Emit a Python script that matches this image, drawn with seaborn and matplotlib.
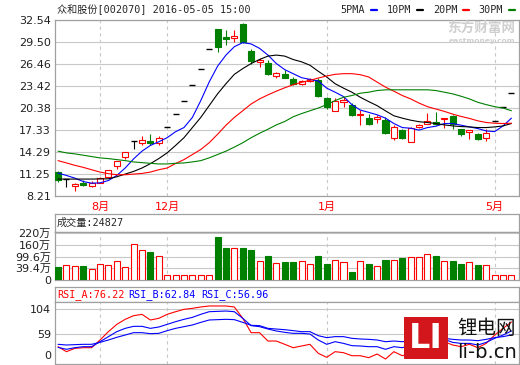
import numpy as np
import matplotlib
matplotlib.use("Agg")
import matplotlib.pyplot as plt
import seaborn as sns
from matplotlib.lines import Line2D
from matplotlib.patches import Rectangle

# ---- data (daily candles, index 0..54) ----
opens = [11.52, 10.50, 9.65, 10.07, 9.65, 10.03, 10.82, 12.31, 13.57, 15.81,
         15.57, 15.85, 15.48, 17.81, 19.49, 21.40, 23.49, 25.82, 28.53, 31.32,
         30.25, 30.02, 31.93, 28.29, 26.76, 26.62, 24.75, 25.03, 24.38, 23.73,
         24.10, 24.19, 21.77, 20.00, 21.16, 20.79, 19.35, 18.93, 18.83, 18.74,
         16.18, 17.34, 15.67, 17.76, 18.23, 18.46, 18.79, 19.21, 17.53, 17.11,
         16.83, 16.27, 18.60, 20.56, 22.47]
closes = [10.45, 10.50, 9.89, 9.75, 9.98, 10.73, 11.75, 13.01, 14.27, 15.81,
          15.99, 15.53, 16.18, 17.81, 19.49, 21.40, 23.49, 25.82, 28.53, 28.85,
          29.88, 30.39, 29.51, 26.85, 26.99, 25.03, 25.22, 24.57, 23.73, 24.05,
          24.43, 22.00, 20.47, 21.40, 21.49, 19.39, 19.53, 18.23, 19.07, 16.88,
          17.76, 16.18, 17.58, 18.04, 18.60, 18.23, 18.97, 18.23, 16.74, 17.39,
          16.04, 16.97, 18.60, 20.56, 22.47]
highs = [11.70, 10.50, 10.07, 10.45, 10.31, 10.77, 11.84, 13.10, 14.27, 15.81,
         16.46, 16.83, 16.46, 17.81, 19.49, 21.40, 23.49, 25.82, 28.53, 31.32,
         31.09, 31.09, 32.11, 28.57, 27.22, 26.99, 25.36, 25.68, 24.66, 24.19,
         24.57, 24.57, 21.96, 21.72, 21.96, 21.02, 20.09, 19.53, 19.44, 19.16,
         18.04, 17.44, 17.76, 18.23, 19.63, 19.86, 18.97, 19.39, 17.53, 17.39,
         16.97, 17.44, 18.60, 20.56, 22.47]
lows = [10.20, 9.40, 8.91, 9.61, 9.47, 9.98, 10.77, 11.98, 13.38, 14.64,
        15.29, 15.25, 15.20, 17.81, 19.49, 21.40, 23.49, 25.82, 28.53, 28.06,
        29.13, 29.46, 29.41, 26.52, 26.06, 24.89, 24.52, 24.52, 23.49, 23.49,
        23.96, 21.86, 20.23, 20.00, 20.47, 19.30, 18.00, 18.04, 18.37, 16.74,
        15.90, 16.04, 15.67, 17.67, 18.23, 18.04, 17.58, 17.44, 16.46, 16.04,
        15.90, 15.81, 18.60, 20.56, 22.47]

ma5 = [11.38, 11.05, 10.68, 10.21, 9.98, 10.03, 10.35, 11.05, 12.08, 13.34,
       14.41, 15.20, 15.71, 16.27, 17.10, 17.67, 19.07, 21.40, 23.96, 26.15,
       27.69, 28.85, 29.41, 29.23, 28.62, 27.69, 26.52, 25.68, 25.12, 24.57,
       24.33, 24.10, 23.12, 22.56, 21.96, 20.84, 20.09, 19.77, 19.44, 18.97,
       18.23, 17.67, 17.58, 17.32, 17.67, 17.86, 18.23, 18.23, 18.00, 17.76,
       17.53, 17.20, 17.11, 17.90, 18.97]
ma10 = [10.55, 10.55, 10.55, 10.55, 10.55, 10.57, 10.59, 10.87, 11.24, 11.61,
        12.08, 12.68, 13.38, 14.18, 15.20, 16.27, 17.67, 19.07, 20.70, 22.33,
        23.73, 25.03, 25.82, 26.52, 27.08, 27.55, 27.69, 27.55, 27.08, 26.76,
        26.29, 25.45, 24.66, 23.73, 23.12, 22.56, 21.86, 21.26, 20.70, 19.98,
        19.30, 18.97, 18.69, 18.48, 18.37, 18.23, 18.04, 17.90, 17.81, 17.76,
        17.67, 17.67, 17.76, 17.90, 18.23]
ma20 = [13.10, 12.78, 12.45, 12.17, 11.84, 11.52, 11.29, 11.15, 11.15, 11.24,
        11.33, 11.52, 11.84, 12.08, 12.70, 13.24, 13.94, 14.64, 15.57, 16.74,
        17.99, 19.07, 20.00, 20.93, 21.63, 22.19, 22.70, 23.17, 23.59, 23.92,
        24.19, 24.52, 24.80, 25.03, 25.12, 25.12, 24.98, 24.66, 23.96, 23.26,
        22.70, 22.10, 21.63, 21.05, 20.56, 20.23, 19.91, 19.53, 19.21, 18.93,
        18.60, 18.37, 18.27, 18.23, 18.27]
ma30 = [14.41, 14.17, 14.03, 13.85, 13.66, 13.48, 13.38, 13.24, 13.10, 12.92,
        12.82, 12.73, 12.64, 12.64, 12.73, 12.78, 12.92, 13.10, 13.48, 13.94,
        14.41, 14.97, 15.57, 16.27, 16.88, 17.44, 18.04, 18.51, 19.16, 19.60,
        19.99, 20.37, 20.84, 21.40, 21.86, 22.10, 22.42, 22.56, 22.79, 22.89,
        22.89, 22.89, 22.89, 22.89, 22.89, 22.79, 22.56, 22.33, 22.00, 21.63,
        21.16, 20.84, 20.56, 20.37, 19.99]

# volume in 万
volume = [60, 71, 67, 67, 53, 78, 71, 92, 60, 173,
          145, 136, 115, 23, 23, 23, 23, 23, 23, 207,
          152, 152, 152, 145, 92, 113, 83, 87, 87, 92,
          78, 117, 78, 97, 87, 39, 92, 78, 67, 97,
          97, 104, 110, 110, 124, 115, 92, 92, 78, 87,
          71, 71, 23, 23, 23]

rsi_a = [39.6, 32.2, 37.1, 38.1, 38.1, 49.5, 61.9, 72.7, 80.2, 85.6,
         87.6, 79.2, 81.7, 87.6, 91.5, 95.0, 96.5, 98.5, 100.0, 100.0,
         100.0, 98.5, 81.7, 60.4, 60.4, 48.0, 48.0, 43.1, 38.1, 40.6,
         43.1, 29.7, 23.8, 32.2, 30.7, 26.2, 26.2, 23.3, 28.7, 21.3,
         32.2, 26.2, 29.7, 37.1, 42.1, 48.0, 47.0, 42.1, 39.6, 43.1,
         38.1, 44.5, 56.9, 66.8, 76.2]
rsi_b = [38.6, 35.7, 38.1, 39.6, 39.6, 47.0, 54.5, 61.9, 66.8, 69.8,
         69.8, 66.8, 68.8, 72.7, 76.7, 80.2, 83.1, 87.6, 91.5, 92.0,
         92.5, 91.5, 81.7, 70.8, 69.3, 65.8, 62.9, 60.9, 59.4, 59.4,
         58.4, 49.5, 43.1, 47.0, 44.5, 41.1, 40.6, 39.6, 39.6, 35.7,
         39.6, 38.1, 42.1, 44.5, 47.0, 49.5, 50.5, 46.0, 44.5, 44.5,
         42.1, 46.0, 52.0, 56.9, 62.8]
rsi_c = [43.1, 42.1, 42.6, 43.1, 43.1, 46.0, 49.5, 53.5, 56.9, 60.4,
         60.4, 58.9, 59.4, 63.4, 66.8, 69.3, 71.8, 75.7, 79.2, 79.7,
         80.2, 79.7, 75.7, 71.3, 70.8, 66.8, 65.8, 64.8, 63.4, 61.9,
         61.9, 55.9, 53.0, 54.5, 54.5, 52.0, 51.0, 50.5, 49.5, 47.0,
         48.0, 47.0, 48.0, 49.5, 50.5, 52.0, 52.0, 50.5, 49.5, 49.5,
         48.5, 50.5, 53.0, 54.5, 57.0]

month_pos = [5, 13, 32, 52]
month_labels = ["8月", "12月", "1月", "5月"]
price_ticks = [8.21, 11.25, 14.29, 17.33, 20.38, 23.42, 26.46, 29.50, 32.54]
vol_ticks = [0, 57.5, 110, 168, 225]
vol_labels = ["0", "39.4万", "99.6万", "160万", "220万"]
rsi_ticks = [27.2, 58.4, 95.5]
rsi_labels = ["0", "59", "104"]

RED, GREEN, BLUE = "#ff0000", "#008000", "#0000ff"

sns.set_style("white")
plt.rcParams["font.family"] = ["DejaVu Sans", "Noto Sans CJK SC"]
MONO = ["DejaVu Sans Mono", "Noto Sans CJK SC"]

W, H = 520, 365
fig = plt.figure(figsize=(W / 100, H / 100), dpi=100)


def box(x0, y0, x1, y1):
    return [x0 / W, 1 - y1 / H, (x1 - x0) / W, (y1 - y0) / H]


def frame(ax):
    for s in ax.spines.values():
        s.set_color("#a0a0a0")
        s.set_linewidth(0.9)
    ax.tick_params(length=0, labelsize=8, pad=3, colors="#202020")
    ax.set_xlim(-0.36, 54.9)
    ax.set_xticks(month_pos)
    ax.grid(axis="x", color="#c8c8c8", linestyle=(0, (3, 3)), linewidth=0.8)
    ax.grid(axis="y", color="#c8c8c8", linewidth=0.8)
    ax.set_axisbelow(True)


def header(ax):
    ax.set_xticks([])
    ax.set_yticks([])
    for s in ax.spines.values():
        s.set_color("#a0a0a0")
        s.set_linewidth(0.9)


ax_p = fig.add_axes(box(55, 20, 519, 196))
ax_vh = fig.add_axes(box(55, 214, 519, 232))
ax_v = fig.add_axes(box(55, 232, 519, 280))
ax_rh = fig.add_axes(box(55, 287, 519, 302))
ax_r = fig.add_axes(box(55, 302, 519, 364))

idx = np.arange(len(opens))
o, c, hi, lo = map(np.array, (opens, closes, highs, lows))

# ---- price panel ----
frame(ax_p)
up = c > o
down = c < o
flat = c == o
edge = np.where(up, RED, np.where(down, GREEN, "black"))
face = np.where(up, "white", np.where(down, GREEN, "black"))
ax_p.vlines(idx, lo, hi, colors=edge, linewidth=0.8, zorder=2)
body = ~flat
ax_p.bar(idx[body], np.abs(c - o)[body], bottom=np.minimum(o, c)[body],
         width=0.72, color=face[body], edgecolor=edge[body], linewidth=0.8,
         zorder=3)
ax_p.hlines(c[flat], idx[flat] - 0.36, idx[flat] + 0.36, colors="black",
            linewidth=1.0, zorder=3)
for ma, col in ((ma5, BLUE), (ma10, "black"), (ma20, RED), (ma30, GREEN)):
    sns.lineplot(x=idx, y=ma, ax=ax_p, color=col, linewidth=0.8, zorder=4)
ax_p.set_ylim(8.21, 32.54)
ax_p.set_yticks(price_ticks, [f"{t:.2f}" for t in price_ticks])
ax_p.set_xticks(month_pos, month_labels)
ax_p.tick_params(axis="x", colors=RED, pad=4)
ax_p.set_xlabel("")
ax_p.set_ylabel("")

# ---- volume panel ----
header(ax_vh)
frame(ax_v)
vol_up = c >= o
ax_v.bar(idx, volume, width=0.72,
         color=np.where(vol_up, "white", GREEN),
         edgecolor=np.where(vol_up, RED, GREEN), linewidth=0.8, zorder=3)
ax_v.set_ylim(0, 230)
ax_v.set_yticks(vol_ticks, vol_labels)
ax_v.set_xticklabels([])
ax_v.get_ygridlines()[0].set_visible(False)

# ---- RSI panel ----
header(ax_rh)
frame(ax_r)
for r, col in ((rsi_a, RED), (rsi_b, BLUE), (rsi_c, BLUE)):
    sns.lineplot(x=idx, y=r, ax=ax_r, color=col, linewidth=0.8, zorder=4)
ax_r.set_ylim(13.9, 105.9)
ax_r.set_yticks(rsi_ticks, rsi_labels)
ax_r.set_xticklabels([])
ax_r.get_ygridlines()[0].set_visible(False)
ax_r.set_xlabel("")
ax_r.set_ylabel("")


def ftext(x, y, s, **kw):
    kw.setdefault("va", "center")
    return fig.text(x / W, 1 - y / H, s, **kw)


# titles and legends
ftext(57, 10, "众和股份[002070] 2016-05-05 15:00", family=MONO, fontsize=7.3)
for lx, label, dx, col in ((340, "5PMA", 371, BLUE), (387, "10PM", 417, "black"),
                           (433, "20PM", 463, RED), (478, "30PM", 509, GREEN)):
    ftext(lx, 10, label, family=MONO, fontsize=7.3)
    fig.add_artist(Line2D([dx / W, (dx + 6) / W], [1 - 10 / H, 1 - 10 / H],
                          color=col, linewidth=1.6, transform=fig.transFigure))
ftext(57, 223, "成交量:24827", family=MONO, fontsize=7.3)
ftext(57, 294.5, "RSI_A:76.22", family=MONO, fontsize=7.3, color=RED)
ftext(128, 294.5, "RSI_B:62.84", family=MONO, fontsize=7.3, color=BLUE)
ftext(201, 294.5, "RSI_C:56.96", family=MONO, fontsize=7.3, color=BLUE)

# watermark
ftext(447, 28, "东方财富网", family=["Noto Sans CJK SC"], fontsize=9.8,
      fontweight="bold", color="#cfcfcf")
ftext(449, 41, "eastmoney.com", fontsize=5.4, fontweight="bold", color="#cfcfcf")

# li-b.cn logo
fig.add_artist(Rectangle((404 / W, 1 - 359 / H), 44 / W, 42 / H,
                         facecolor="#d2161b", edgecolor="none",
                         transform=fig.transFigure, zorder=5))
ftext(426, 339, "LI", fontsize=24, fontweight="bold", color="white",
      ha="center", zorder=6)
ftext(487, 328, "锂电网", family=["Noto Sans CJK SC"], fontsize=14,
      ha="center", color="#111111", zorder=6)
ftext(487, 352, "li-b.cn", fontsize=14, ha="center", color="#111111", zorder=6)

fig.savefig("out.png", dpi=100, facecolor="white")
